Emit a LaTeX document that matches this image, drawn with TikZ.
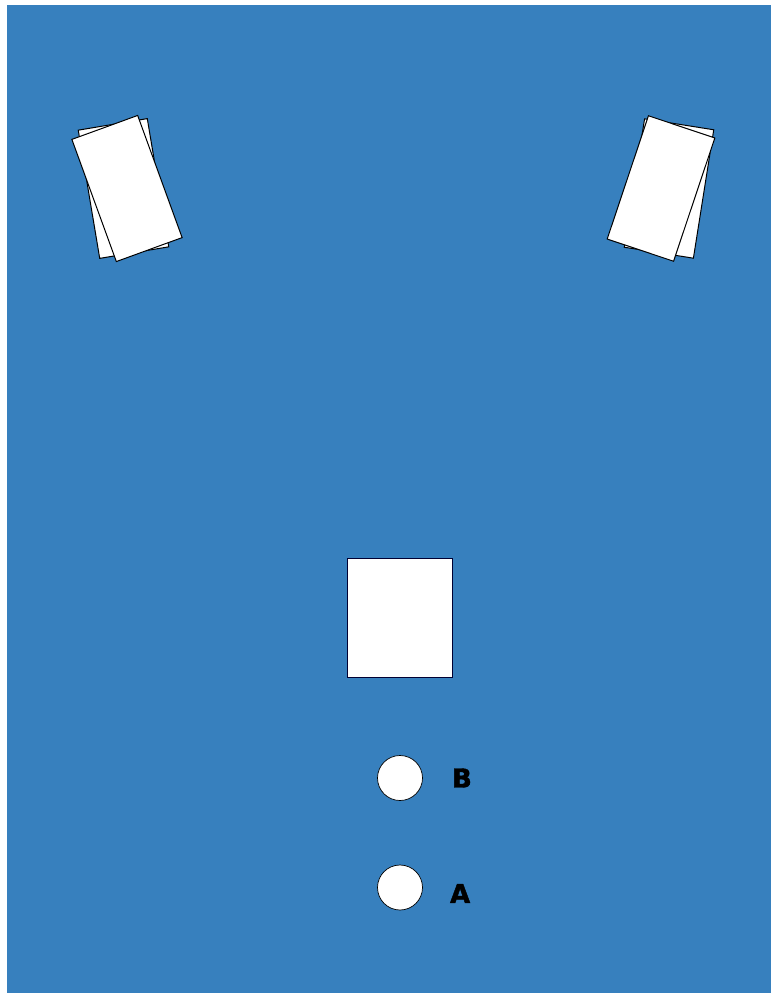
\documentclass[tikz,border=0pt]{standalone}
\usepackage{fontspec}
\newfontfamily\tagfont{DejaVu Sans}[BoldFeatures={FakeBold=1.6}]
\usetikzlibrary{positioning}
\definecolor{StageBlue}{HTML}{3780BE}

\begin{document}
\begin{tikzpicture}[x=1pt,y=-1pt,
  speaker/.style={draw=black,fill=white,line width=1pt,minimum width=70pt,minimum height=130pt,inner sep=0pt},
  desk/.style={draw=black!80!blue,fill=white,line width=1pt,minimum width=105pt,minimum height=119pt,inner sep=0pt},
  seat/.style={circle,draw=black,fill=white,line width=0.7pt,minimum size=45pt,inner sep=0pt},
  tag/.style={font=\tagfont\bfseries\fontsize{26}{26}\selectfont,inner sep=0pt}
]
\useasboundingbox (0,0) rectangle (771,993);
\fill[StageBlue] (7,5) rectangle (771,993);

% left speaker pair
\node[speaker,rotate=9.5] (leftback) at (123.5,188.5) {};
\node[speaker,rotate=20] (leftfront) at (127,188.5) {};
% right speaker pair
\node[speaker,rotate=-9] (rightback) at (669,188.5) {};
\node[speaker,rotate=-18.5] (rightfront) at (661,188.5) {};

\node[desk] (desk) at (400,617.5) {};

\node[seat] (seatB) at (400,778) {};
\node[seat] (seatA) at (400,887.5) {};
\node[tag,right=29pt of seatB] (tagB) {B};
\node[tag,right=27pt of seatA,yshift=-6pt] (tagA) {A};
\end{tikzpicture}
\end{document}
